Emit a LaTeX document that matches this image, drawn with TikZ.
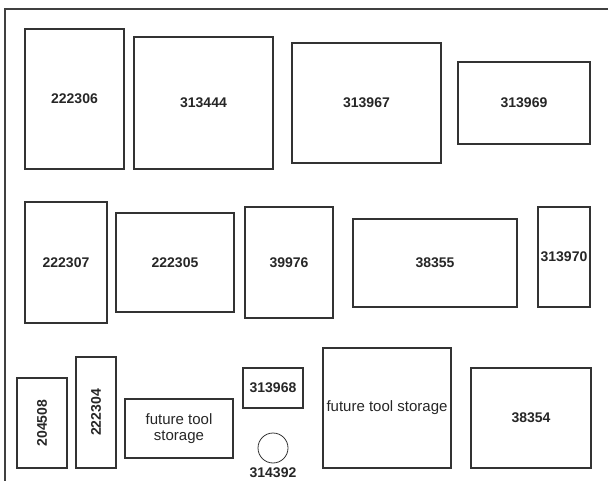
\documentclass[tikz,border=0pt]{standalone}
\usepackage{fontspec}
\setmainfont{Liberation Sans}
\begin{document}
\begin{tikzpicture}[x=1pt,y=-1pt,
  frameline/.style={draw=black!75,line width=1.3pt},
  bin/.style={draw=black!80,line width=1.1pt,rectangle,inner sep=0pt,
    font=\fontsize{14}{16}\selectfont\bfseries,text=black!85},
  futurebin/.style={bin,font=\fontsize{15}{16}\selectfont,align=center},
  numlabel/.style={inner sep=0pt,font=\fontsize{14}{16}\selectfont\bfseries,text=black!85},
  ring/.style={draw=black!80,line width=0.8pt,circle,inner sep=0pt,minimum size=30pt}]
\useasboundingbox (0,0) rectangle (608,481);
\draw[frameline] (5,481) -- (5,9) -- (608,9);
% row 1
\node[bin,minimum width=99pt,minimum height=140pt] (b222306) at (74.5,99) {222306};
\node[bin,minimum width=139pt,minimum height=132pt] (b313444) at (203.5,103) {313444};
\node[bin,minimum width=149pt,minimum height=120pt] (b313967) at (366.5,103) {313967};
\node[bin,minimum width=132pt,minimum height=82pt] (b313969) at (524,103) {313969};
% row 2
\node[bin,minimum width=82pt,minimum height=121pt] (b222307) at (66,262.5) {222307};
\node[bin,minimum width=118pt,minimum height=99pt] (b222305) at (175,262.5) {222305};
\node[bin,minimum width=88pt,minimum height=111pt] (b39976) at (289,262.5) {39976};
\node[bin,minimum width=164pt,minimum height=88pt] (b38355) at (435,263) {38355};
\node[bin,minimum width=52pt,minimum height=100pt] (b313970) at (564,257) {313970};
% row 3
\node[bin,rotate=90,minimum width=90pt,minimum height=50pt] (b204508) at (42,423) {204508};
\node[bin,rotate=90,minimum width=111pt,minimum height=40pt] (b222304) at (96,412.5) {222304};
\node[futurebin,minimum width=108pt,minimum height=59pt] (fsmall) at (179,428.5) {future tool\\storage};
\node[bin,minimum width=60pt,minimum height=40pt] (b313968) at (273,388) {313968};
\node[ring] (c314392) at (273,448) {};
\node[numlabel] (l314392) at (273,473) {314392};
\node[futurebin,minimum width=128pt,minimum height=120pt] (fbig) at (387,408) {\raisebox{3pt}{future tool storage}};
\node[bin,minimum width=120pt,minimum height=100pt] (b38354) at (531,418) {38354};
\end{tikzpicture}
\end{document}
